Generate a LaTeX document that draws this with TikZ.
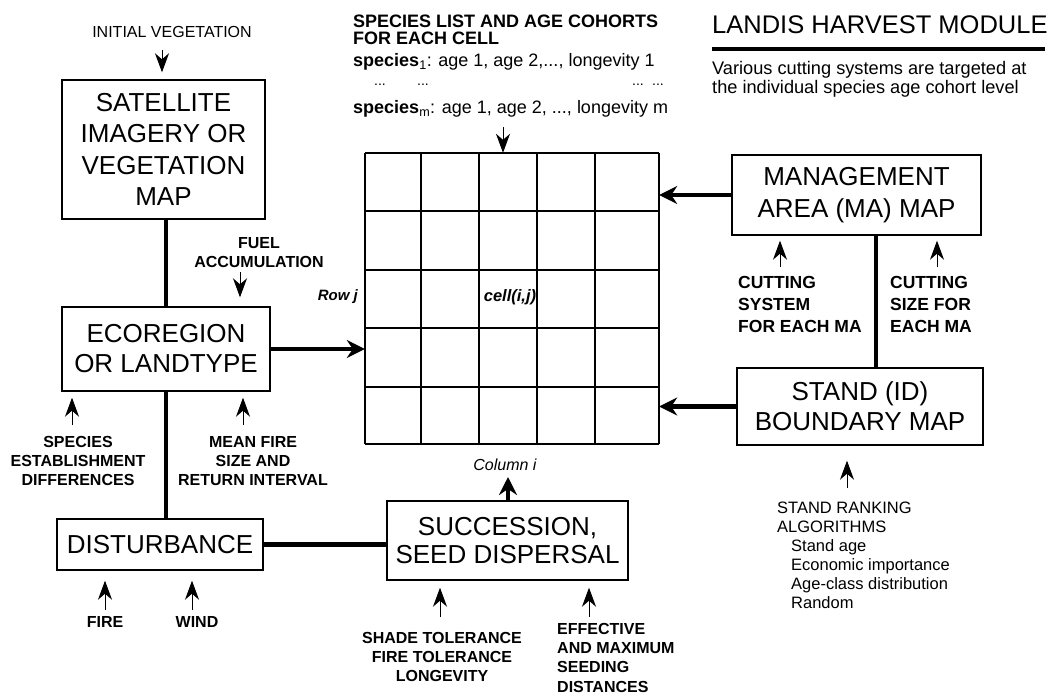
\documentclass[tikz,border=0pt]{standalone}
\usepackage{fontspec}
\setmainfont{Liberation Sans}
\usetikzlibrary{arrows.meta}
\begin{document}
\begin{tikzpicture}[x=1pt,y=-1pt,
  box/.style={draw, line width=1.4pt, align=center, inner sep=0pt, font=\fontsize{26}{30}\selectfont},
  gridline/.style={line width=1.5pt},
  thickline/.style={line width=4.5pt},
  thickarr/.style={line width=4.5pt, -{Stealth[length=18pt,width=18pt,inset=6pt]}},
  labarr/.style={line width=0.9pt, -{Stealth[length=19pt,width=14pt,inset=6pt]}},
  lab/.style={font=\bfseries\fontsize{16}{19}\selectfont, align=center, inner sep=0pt},
  lablft/.style={font=\bfseries\fontsize{16}{19.3}\selectfont, align=left, inner sep=0pt, anchor=north west},
  cutlab/.style={font=\bfseries\fontsize{17.5}{22}\selectfont, align=left, inner sep=0pt, anchor=north west}]
\useasboundingbox (0,0) rectangle (1058,696);

% boxes
\node[box, minimum width=203pt, minimum height=139pt, font=\fontsize{26}{31.5}\selectfont] (sat) at (163.5,149.5) {SATELLITE\\IMAGERY OR\\VEGETATION\\MAP};
\node[box, minimum width=208pt, minimum height=84pt] (eco) at (166,349) {ECOREGION\\OR LANDTYPE};
\node[box, minimum width=206pt, minimum height=51pt] (dist) at (160,544.5) {DISTURBANCE};
\node[box, minimum width=241pt, minimum height=79pt, font=\fontsize{26}{28.5}\selectfont] (succ) at (507.5,540.5) {SUCCESSION,\\SEED DISPERSAL};
\node[box, minimum width=249pt, minimum height=80pt, font=\fontsize{26}{32}\selectfont] (ma) at (856.5,195) {MANAGEMENT\\AREA (MA) MAP};
\node[box, minimum width=246pt, minimum height=77pt] (stand) at (860,406.5) {STAND (ID)\\BOUNDARY MAP};

% grid
\node[minimum width=294pt, minimum height=291pt, inner sep=0pt] (grid) at (512,298.5) {};
\foreach \x in {365,421,479,537,595,659} \draw[gridline] (\x,153) -- (\x,444);
\foreach \y in {153,211,270,328,387,444} \draw[gridline] (365,\y) -- (659,\y);
\node[anchor=east, inner sep=0pt, font=\bfseries\itshape\fontsize{15}{18}\selectfont] (rowj) at (358,297) {Row j};
\node[inner sep=0pt, font=\bfseries\itshape\fontsize{16.5}{18}\selectfont] (cell) at (510,297) {cell(i,j)};
\node[inner sep=0pt, font=\itshape\fontsize{16}{18}\selectfont] (col) at (505,465) {Column i};

% connectors
\draw[thickline] (sat.south -| eco.north) -- (eco.north);
\draw[thickline] (eco.south) -- (eco.south |- dist.north);
\draw[thickarr] (eco.east) -- (eco.east -| grid.west);
\draw[thickarr] (ma.west) -- (ma.west -| grid.east);
\draw[thickarr] (stand.west) -- (stand.west -| grid.east);
\draw[thickline] (dist.east) -- (dist.east -| succ.west);
\coordinate (mastand) at (876,300);
\draw[thickline] (ma.south -| mastand) -- (stand.north -| mastand);
\coordinate (colx) at (508,477);
\draw[thickarr] (succ.north -| colx) -- (colx);

% header texts
\node[anchor=north west, inner sep=0pt, align=left, font=\bfseries\fontsize{18}{16.5}\selectfont] (hdr) at (353,15) {SPECIES LIST AND AGE COHORTS\\FOR EACH CELL};
\node[anchor=west, inner sep=0pt, font=\fontsize{18}{20}\selectfont] (sp1) at (353,62) {\textbf{species}\textsubscript{1}: age 1, age 2,..., longevity 1};
\node[inner sep=0pt, font=\fontsize{14}{14}\selectfont] (d1) at (380,85) {...};
\node[inner sep=0pt, font=\fontsize{14}{14}\selectfont] (d2) at (423,85) {...};
\node[inner sep=0pt, font=\fontsize{14}{14}\selectfont] (d3) at (638,85) {...};
\node[inner sep=0pt, font=\fontsize{14}{14}\selectfont] (d4) at (658,85) {...};
\node[anchor=west, inner sep=0pt, font=\fontsize{18}{20}\selectfont] (spm) at (353,109) {\textbf{species}\textsubscript{m}: age 1, age 2, ..., longevity m};
\coordinate (a12) at (503,127);
\draw[labarr] (a12) -- (a12 |- grid.north);

\node[anchor=west, inner sep=0pt, font=\fontsize{25.5}{28}\selectfont] (landis) at (712,25) {LANDIS HARVEST MODULE};
\draw[line width=4pt] (712,49) -- (1045,49);
\node[anchor=north west, inner sep=0pt, align=left, font=\fontsize{18.2}{19}\selectfont] (various) at (712,61) {Various cutting systems are targeted at\\the individual species age cohort level};

% labels and label arrows
\node[inner sep=0pt, font=\fontsize{16}{19}\selectfont] (initv) at (172,32) {INITIAL VEGETATION};
\coordinate (a1) at (162,50);
\draw[labarr, shorten >=7pt] (a1) -- (a1 |- sat.north);

\node[lab, anchor=north] (fuel) at (259,237) {FUEL\\ACCUMULATION};
\coordinate (a2) at (240,272);
\draw[labarr, shorten >=9pt] (a2) -- (a2 |- eco.north);

\node[lab, anchor=north] (specest) at (78,436) {SPECIES\\ESTABLISHMENT\\DIFFERENCES};
\node[lab, anchor=north] (meanfire) at (253,436) {MEAN FIRE\\SIZE AND\\RETURN INTERVAL};
\coordinate (a3) at (72,425);
\coordinate (a4) at (243,425);
\draw[labarr, shorten >=6pt] (a3) -- (a3 |- eco.south);
\draw[labarr, shorten >=6pt] (a4) -- (a4 |- eco.south);

\node[lab] (fire) at (105,622) {FIRE};
\node[lab] (wind) at (197,622) {WIND};
\coordinate (a5) at (105,610);
\coordinate (a6) at (192,610);
\draw[labarr, shorten >=10pt] (a5) -- (a5 |- dist.south);
\draw[labarr, shorten >=10pt] (a6) -- (a6 |- dist.south);

\node[lab, anchor=north] (shade) at (442,632) {SHADE TOLERANCE\\FIRE TOLERANCE\\LONGEVITY};
\node[lablft] (effective) at (557,623) {EFFECTIVE\\AND MAXIMUM\\SEEDING\\DISTANCES};
\coordinate (a7) at (440,617);
\coordinate (a8) at (589,617);
\draw[labarr, shorten >=7pt] (a7) -- (a7 |- succ.south);
\draw[labarr, shorten >=7pt] (a8) -- (a8 |- succ.south);

\node[cutlab] (cutsys) at (738,276) {CUTTING\\SYSTEM\\FOR EACH MA};
\node[cutlab] (cutsize) at (890,276) {CUTTING\\SIZE FOR\\EACH MA};
\coordinate (a9) at (780,267);
\coordinate (a10) at (937,267);
\draw[labarr, shorten >=5pt] (a9) -- (a9 |- ma.south);
\draw[labarr, shorten >=5pt] (a10) -- (a10 |- ma.south);

\node[anchor=north west, inner sep=0pt, align=left, font=\fontsize{16.5}{19}\selectfont] (rank) at (777,502) {STAND RANKING\\ALGORITHMS\\\hspace*{14pt}Stand age\\\hspace*{14pt}Economic importance\\\hspace*{14pt}Age-class distribution\\\hspace*{14pt}Random};
\coordinate (a11) at (847,488);
\draw[labarr, shorten >=15pt] (a11) -- (a11 |- stand.south);
\end{tikzpicture}
\end{document}
